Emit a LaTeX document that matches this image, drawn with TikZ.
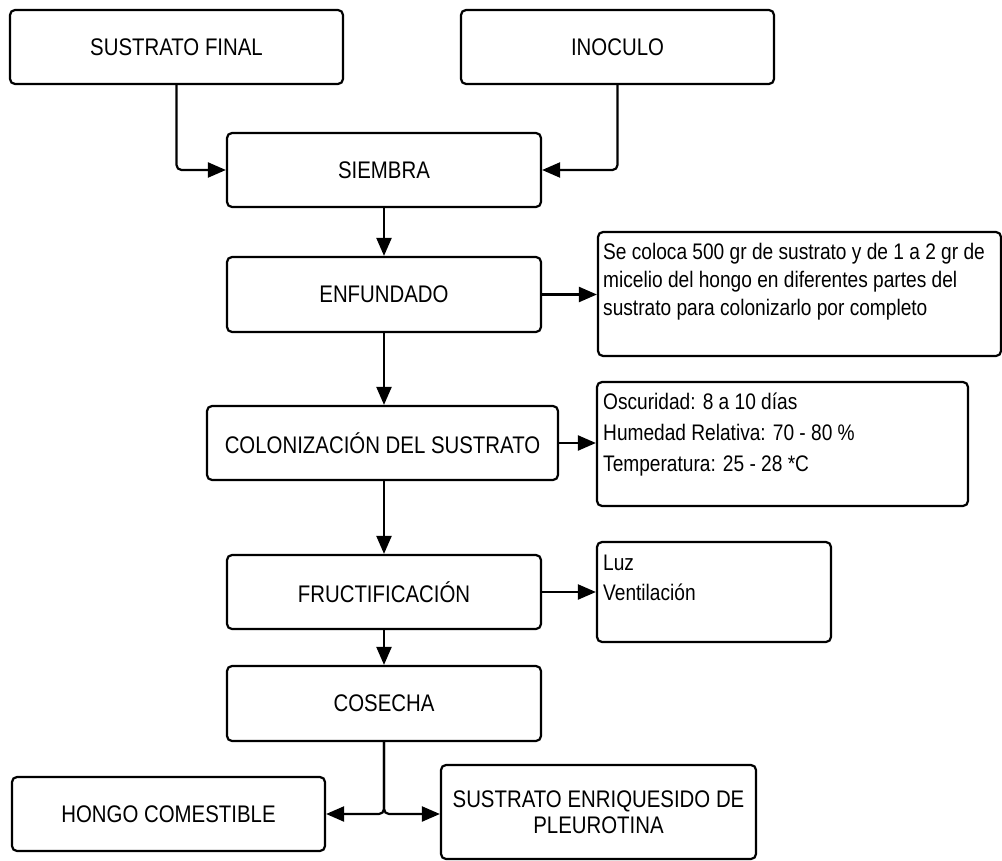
\documentclass[tikz,border=0pt]{standalone}
\usepackage{fontspec}
\setmainfont{Liberation Sans}[FakeStretch=0.85]
\usetikzlibrary{arrows.meta}
\begin{document}
\begin{tikzpicture}[x=1pt,y=-1pt,
  box/.style={draw, line width=2.2pt, rounded corners=5pt, inner sep=0pt,
    font=\fontsize{24}{26}\selectfont, align=center},
  notebox/.style={draw, line width=2.2pt, rounded corners=5pt, inner sep=0pt},
  notetxt/.style={anchor=base west, inner sep=0pt, font=\fontsize{22.5}{26}\selectfont},
  arr/.style={line width=2.2pt, rounded corners=5pt, -{Triangle[length=18pt,width=15pt]}}]
\useasboundingbox (0,0) rectangle (1002,861);

% main boxes
\node[box, minimum width=333pt, minimum height=74pt] (sf)  at (176.5,47)  {SUSTRATO FINAL};
\node[box, minimum width=313pt, minimum height=74pt] (ino) at (617.5,47)  {INOCULO};
\node[box, minimum width=314pt, minimum height=74pt] (sie) at (384,170)   {SIEMBRA};
\node[box, minimum width=314pt, minimum height=75pt] (enf) at (384,294.5) {ENFUNDADO};
\node[box, minimum width=351pt, minimum height=74pt] (col) at (382.5,443) {COLONIZACIÓN DEL SUSTRATO};
\node[box, minimum width=314pt, minimum height=74pt] (fru) at (384,592)   {FRUCTIFICACIÓN};
\node[box, minimum width=314pt, minimum height=75pt] (cos) at (384,703.5) {COSECHA};
\node[box, minimum width=313pt, minimum height=74pt] (hon) at (168.5,814) {HONGO COMESTIBLE};
\node[box, minimum width=315pt, minimum height=94pt] (enr) at (598.5,812) {SUSTRATO ENRIQUESIDO DE\\PLEUROTINA};

% note boxes
\node[notebox, minimum width=403pt, minimum height=124pt] (n1) at (799.5,294) {};
\node[notebox, minimum width=371pt, minimum height=124pt] (n2) at (782.5,444) {};
\node[notebox, minimum width=234pt, minimum height=100pt] (n3) at (714,592) {};

% note texts
\node[notetxt] (n1a) at (603,260) {Se coloca 500 gr de sustrato y de 1 a 2 gr de};
\node[notetxt] (n1b) at (603,288) {micelio del hongo en diferentes partes del};
\node[notetxt] (n1c) at (603,316) {sustrato para colonizarlo por completo};
\node[notetxt] (n2a) at (603,409) {Oscuridad: 8 a 10 días};
\node[notetxt] (n2b) at (603,440) {Humedad Relativa: 70 - 80 \%};
\node[notetxt] (n2c) at (603,471) {Temperatura: 25 - 28 *C};
\node[notetxt] (n3a) at (603,570) {Luz};
\node[notetxt] (n3b) at (603,600) {Ventilación};

% connectors
\draw[arr] (sf.south) |- (sie.west);
\draw[arr] (ino.south) |- (sie.east);
\draw[arr] (sie.south) -- (enf.north);
\draw[arr] (enf.east) -- (enf.east -| n1.west);
\draw[arr] (enf.south) -- (enf.south |- col.north);
\draw[arr] (col.east) -- (col.east -| n2.west);
\draw[arr] (enf.south |- col.south) -- (fru.north);
\draw[arr] (fru.east) -- (fru.east -| n3.west);
\draw[arr] (fru.south) -- (cos.north);
\draw[arr] (cos.south) |- (hon.east);
\draw[arr] (cos.south) |- (hon.east -| enr.west);
\end{tikzpicture}
\end{document}
